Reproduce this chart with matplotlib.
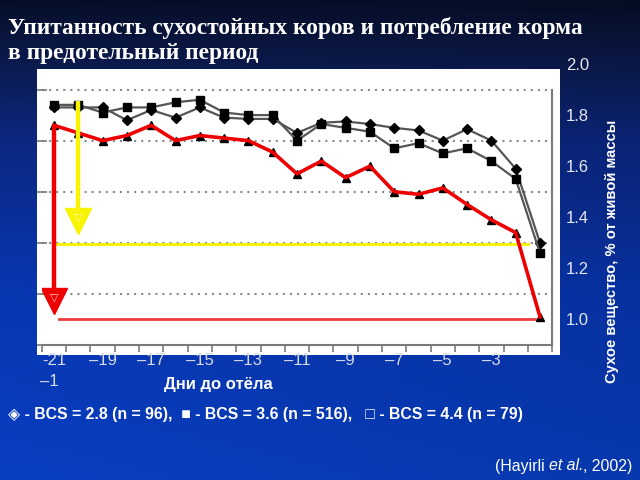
import numpy as np
import matplotlib
matplotlib.use("Agg")
import matplotlib.pyplot as plt
from matplotlib.patches import Rectangle

# ---------------- data ----------------
days = list(range(-21, 0))
bcs28 = [1.83, 1.83, 1.83, 1.78, 1.82, 1.79, 1.83, 1.79, 1.785, 1.785, 1.73,
         1.77, 1.775, 1.765, 1.75, 1.74, 1.70, 1.745, 1.70, 1.59, 1.30]
bcs36 = [1.84, 1.84, 1.81, 1.83, 1.83, 1.85, 1.86, 1.81, 1.80, 1.80, 1.70,
         1.765, 1.75, 1.735, 1.67, 1.69, 1.65, 1.67, 1.62, 1.55, 1.26]
bcs44 = [1.76, 1.73, 1.70, 1.72, 1.76, 1.70, 1.72, 1.71, 1.70, 1.655, 1.57,
         1.62, 1.555, 1.60, 1.50, 1.49, 1.515, 1.45, 1.39, 1.34, 1.01]

xtick_vals = [-21, -19, -17, -15, -13, -11, -9, -7, -5, -3]
xtick_labels = ["-21", "\u201319", "\u201317", "\u201315", "\u201313", "\u201311",
                "\u20139", "\u20137", "\u20135", "\u20133"]
ytick_vals = [1.0, 1.2, 1.4, 1.6, 1.8, 2.0]
ytick_labels = ["1.0", "1.2", "1.4", "1.6", "1.8", "2.0"]
grid_vals = [0.9, 1.1, 1.3, 1.5, 1.7, 1.9]

red_arrow_x, red_arrow_top, red_level = -21, 1.76, 1.0
yellow_arrow_x, yellow_arrow_top, yellow_level = -20, 1.857, 1.295

title_lines = ["Упитанность сухостойных коров и потребление корма",
               "в предотельный период"]
xlabel = "Дни до отёла"
ylabel = "Сухое вещество, % от живой массы"
legend_text = "\u25c8 - BCS = 2.8 (n = 96),  \u25a0 - BCS = 3.6 (n = 516),   \u25a1 - BCS = 4.4 (n = 79)"

# ---------------- figure ----------------
W, H = 640, 480
fig = plt.figure(figsize=(6.4, 4.8), dpi=100)

# background gradient
bg = fig.add_axes([0, 0, 1, 1], zorder=-10)
yy = np.linspace(0, 1, H)[:, None]
xx = np.linspace(0, 1, W)[None, :]
stops = [0.0, 0.12, 0.3, 0.6, 1.0]
r = np.interp(yy, stops, [0.02, 0.04, 0.04, 0.03, 0.03])
g = np.interp(yy, stops, [0.05, 0.09, 0.14, 0.19, 0.22])
b = np.interp(yy, stops, [0.14, 0.26, 0.46, 0.62, 0.68])
hf = 1.0 + 0.12 * (1 - xx)
img = np.dstack([np.broadcast_to(r * hf, (H, W)),
                 np.broadcast_to(g * hf, (H, W)),
                 np.clip(np.broadcast_to(b * hf, (H, W)), 0, 1)])
bg.imshow(img, aspect="auto", extent=[0, 1, 0, 1])
bg.set_axis_off()

# white panel
fig.patches.append(Rectangle((37 / W, 1 - 355 / H), (560 - 37) / W, (355 - 69) / H,
                             transform=fig.transFigure, facecolor="white",
                             edgecolor="none", zorder=-5))

ax = fig.add_axes([41.85 / W, 1 - 345 / H, 510.3 / W, 281 / H])
ax.set_facecolor("none")
ax.set_xlim(-21.5, -0.5)
ax.set_ylim(0.9, 2.0)

for gv in grid_vals[1:]:
    ax.axhline(gv, color="#8a8a8a", lw=1.5, ls=(0, (1, 2.4)), zorder=1)

# yellow guide
ax.plot([-21, -1.5], [yellow_level, yellow_level], color="#f5f000", lw=2, zorder=2)
ax.plot([yellow_arrow_x, yellow_arrow_x], [yellow_arrow_top, 1.40], color="#f8f400",
        lw=3.2, solid_capstyle="butt", zorder=6)
ax.plot([yellow_arrow_x], [1.385], marker="v", ms=19, color="#f8f400", mec="#f8f400", zorder=6)
ax.text(yellow_arrow_x, 1.40, "\u25bd", color="#fbfbb0", ha="center", va="center",
        fontsize=8, zorder=7)

# series
ax.plot(days, bcs28, color="#555555", lw=1.6, marker="D", ms=4.8, mfc="black",
        mec="black", zorder=3)
ax.plot(days, bcs36, color="#555555", lw=1.6, marker="s", ms=5.8, mfc="black",
        mec="black", zorder=3)
ax.plot(days, bcs44, color="#555555", lw=1.6, marker="^", ms=5.5, mfc="black",
        mec="black", zorder=3)
ax.plot(days, bcs44, color="#ee0000", lw=2.6, zorder=4)

# red guide
ax.plot([-20.8, -1.2], [red_level, red_level], color="#f03c3c", lw=2, zorder=2)
ax.plot([red_arrow_x, red_arrow_x], [red_arrow_top, 1.09], color="#ee0000",
        lw=3.2, solid_capstyle="butt", zorder=6)
ax.plot([red_arrow_x], [1.074], marker="v", ms=19, color="#ee0000", mec="#ee0000", zorder=6)
ax.text(red_arrow_x, 1.088, "\u25bd", color="#ffc8c8", ha="center", va="center",
        fontsize=8, zorder=7)

# spines & ticks
for s in ("left", "top"):
    ax.spines[s].set_visible(False)
for s in ("right", "bottom"):
    ax.spines[s].set_color("#7a7a7a")
    ax.spines[s].set_linewidth(1.5)
ax.spines["right"].set_bounds(0.9, 1.9)

ax.yaxis.tick_right()
ax.set_yticks(grid_vals)
ax.tick_params(axis="y", which="major", direction="inout", length=7, width=1.2,
               colors="#7a7a7a", labelright=False, labelleft=False)
ax.set_xticks(xtick_vals)
ax.set_xticklabels(xtick_labels)
ax.set_xticks(np.arange(-21.5, -0.4, 1.0), minor=True)
ax.tick_params(axis="x", which="major", length=0, pad=6, labelsize=12,
               labelcolor="#d6dbe8")
ax.tick_params(axis="x", which="minor", direction="out", length=5, width=1.2,
               color="#7a7a7a")
for lbl in ax.get_xticklabels():
    lbl.set_fontfamily("Liberation Sans")

ax2 = ax.twinx()
ax2.set_ylim(ax.get_ylim())
ax2.set_yticks(ytick_vals)
ax2.set_yticklabels(ytick_labels)
for s in ax2.spines.values():
    s.set_visible(False)
ax2.tick_params(axis="y", length=0, pad=10, labelsize=12, labelcolor="#e6e9f2")
for lbl in ax2.get_yticklabels():
    lbl.set_fontfamily("Liberation Sans")

# texts
for i, line in enumerate(title_lines):
    fig.text(8 / W, 1 - (34 + 25 * i) / H, line, ha="left", va="baseline", color="white",
             fontsize=16.8, fontweight="bold", family="Liberation Serif")
fig.text(40 / W, 1 - 381 / H, "\u20131", ha="left", va="center", color="#d6dbe8",
         fontsize=12, family="Liberation Sans")
fig.text(218 / W, 1 - 384 / H, xlabel, ha="center", va="center", color="white",
         fontsize=12, fontweight="bold", family="Liberation Sans")
fig.text(612 / W, 1 - 251 / H, ylabel, ha="center", va="center", rotation=90,
         color="white", fontsize=10.6, fontweight="bold", family="Liberation Sans")
fig.text(8 / W, 1 - 415 / H, legend_text, ha="left", va="center", color="white",
         fontsize=11.4, fontweight="bold", family=["Liberation Sans", "DejaVu Sans"])

# citation with italic part
fig.canvas.draw()
rend = fig.canvas.get_renderer()
parts = [("(Hayirli ", "normal"), ("et al.", "italic"), (", 2002)", "normal")]
x0 = 495
for txt, style in parts:
    t = fig.text(x0 / W, 1 - 466 / H, txt, ha="left", va="center", color="white",
                 fontsize=11.4, style=style, family="Liberation Sans")
    bb = t.get_window_extent(renderer=rend)
    x0 += bb.width

fig.savefig("out.png", dpi=100)
